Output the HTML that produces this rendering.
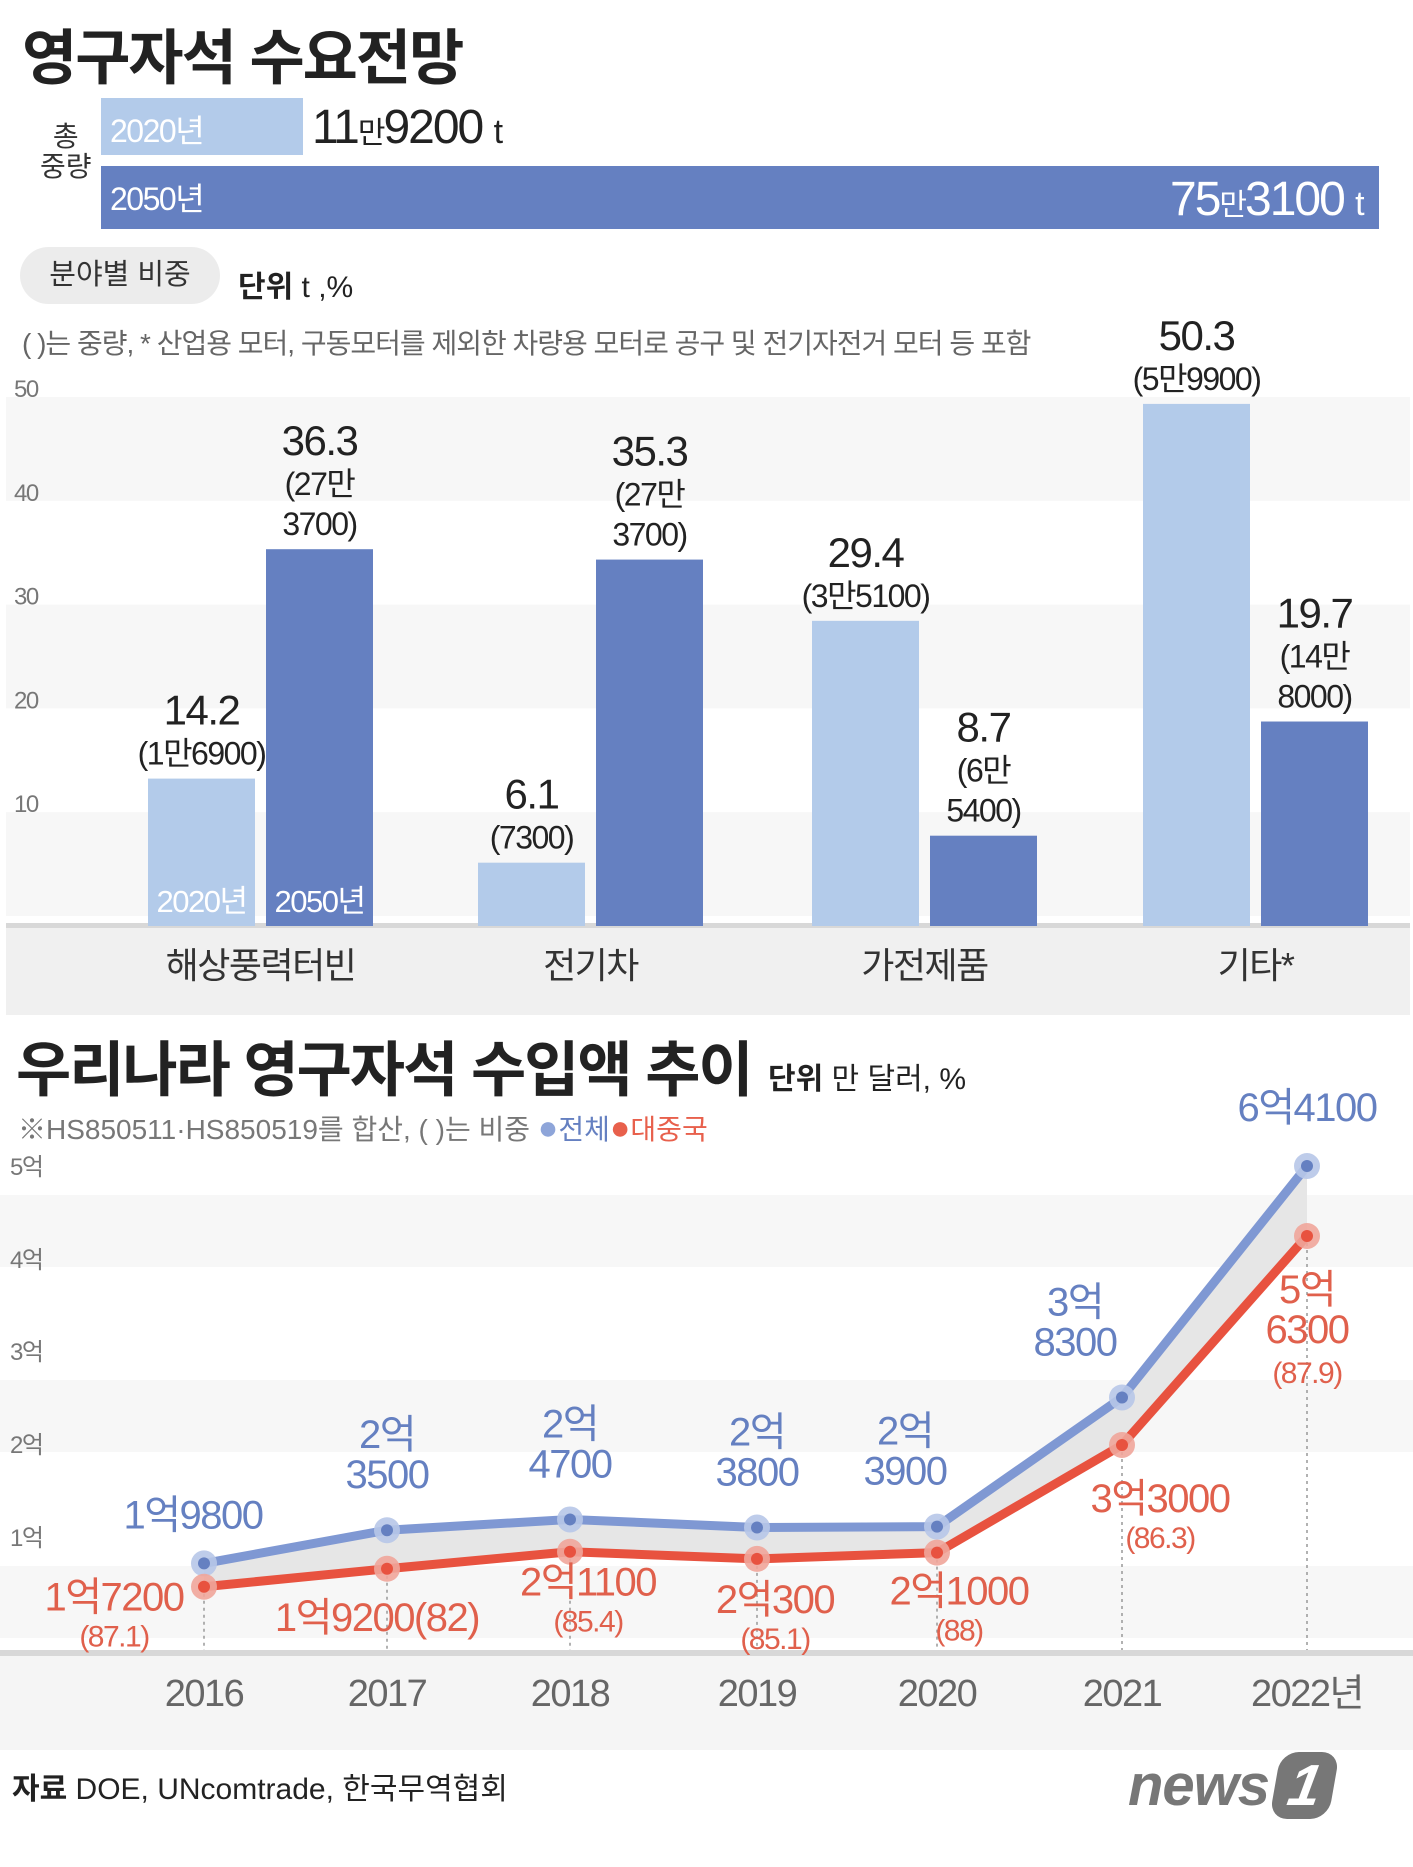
<!DOCTYPE html>
<html><head><meta charset="utf-8">
<style>
body{margin:0;width:1413px;height:1867px;background:#fff;overflow:hidden;position:relative;font-family:"Liberation Sans Narrow","Liberation Sans","Noto Sans CJK KR",sans-serif;color:#222}
.a{position:absolute;white-space:nowrap}
svg{position:absolute;left:0;top:0}
svg text{letter-spacing:-1.5px}
</style></head><body>
<div class="a" style="left:22px;top:10px;font-size:60px;font-weight:bold;font-family:'Liberation Sans','Noto Sans CJK KR',sans-serif;letter-spacing:-2px">영구자석 수요전망</div>
<div class="a" style="left:40px;top:122px;font-size:28px;line-height:30px;text-align:center;color:#333;font-family:'Liberation Sans','Noto Sans CJK KR',sans-serif">총<br>중량</div>
<div class="a" style="left:101px;top:98px;width:202px;height:57px;background:#b3cbea"></div>
<div class="a" style="left:110px;top:106px;font-size:32px;color:#fff;letter-spacing:-1.5px">2020년</div>
<div class="a" style="left:312px;top:100px;font-size:48px;letter-spacing:-2px">11<span style="font-size:30px">만</span>9200 <span style="font-size:34px">t</span></div>
<div class="a" style="left:101px;top:166px;width:1278px;height:63px;background:#6580c1"></div>
<div class="a" style="left:110px;top:174px;font-size:32px;color:#fff;letter-spacing:-1.5px">2050년</div>
<div class="a" style="left:1170px;top:172px;font-size:48px;color:#fff;letter-spacing:-2px">75<span style="font-size:30px">만</span>3100 <span style="font-size:34px">t</span></div>
<div class="a" style="left:20px;top:247px;width:200px;height:57px;border-radius:29px;background:#ececec;font-size:29px;line-height:57px;text-align:center;color:#333;font-family:'Liberation Sans','Noto Sans CJK KR',sans-serif">분야별 비중</div>
<div class="a" style="left:238px;top:262px;font-size:30px;font-family:'Liberation Sans','Noto Sans CJK KR',sans-serif"><b>단위</b> t ,%</div>
<div class="a" style="left:22px;top:322px;font-size:28px;color:#666;font-family:'Liberation Sans','Noto Sans CJK KR',sans-serif;letter-spacing:-1px">( )는 중량, * 산업용 모터, 구동모터를 제외한 차량용 모터로 공구 및 전기자전거 모터 등 포함</div>

<div class="a" style="left:16px;top:1022px;font-size:60px;font-weight:bold;font-family:'Liberation Sans','Noto Sans CJK KR',sans-serif;letter-spacing:-2px">우리나라 영구자석 수입액 추이</div>
<div class="a" style="left:768px;top:1054px;font-size:30px;font-family:'Liberation Sans','Noto Sans CJK KR',sans-serif"><b>단위</b> 만 달러, %</div>
<div class="a" style="left:18px;top:1108px;font-size:28px;color:#777;font-family:'Liberation Sans','Noto Sans CJK KR',sans-serif">※HS850511·HS850519를 합산, ( )는 비중 <span style="color:#8ea5d9;font-size:34px">●</span><span style="color:#6580c1">전체</span><span style="color:#e8604c"><span style="font-size:34px">●</span>대중국</span></div>
<div class="a" style="left:12px;top:1764px;font-size:30px;font-family:'Liberation Sans','Noto Sans CJK KR',sans-serif"><b>자료</b> DOE, UNcomtrade, 한국무역협회</div>
<div class="a" style="left:1128px;top:1752px;font-size:58px;font-weight:bold;font-style:italic;color:#777;font-family:'Liberation Sans',sans-serif;letter-spacing:-1px">news<span style="display:inline-block;background:#777;color:#fff;border-radius:18px;padding:0 14px;margin-left:6px;transform:skewX(-10deg)">1</span></div>

<svg id="bars" width="1413" height="1867"></svg>
<svg id="lines" width="1413" height="1867"></svg>

<script>
const categories=["해상풍력터빈","전기차","가전제품","기타*"];
const share2020=[14.2,6.1,29.4,50.3];
const share2050=[36.3,35.3,8.7,19.7];
const weight2020=[["(1만6900)"],["(7300)"],["(3만5100)"],["(5만9900)"]];
const weight2050=[["(27만","3700)"],["(27만","3700)"],["(6만","5400)"],["(14만","8000)"]];
const barTicks=[10,20,30,40,50];

const years=["2016","2017","2018","2019","2020","2021","2022년"];
const totalVals=[1.98,2.35,2.47,2.38,2.39,3.83,6.41];
const chinaVals=[1.72,1.92,2.11,2.03,2.10,3.30,5.63];
const totalLabels=[["1억9800"],["2억","3500"],["2억","4700"],["2억","3800"],["2억","3900"],["3억","8300"],["6억4100"]];
const chinaLabels=[["1억7200","(87.1)"],["1억9200(82)"],["2억1100","(85.4)"],["2억300","(85.1)"],["2억1000","(88)"],["3억3000","(86.3)"],["5억","6300","(87.9)"]];
const lineTicks=["1억","2억","3억","4억","5억"];

const NS="http://www.w3.org/2000/svg";
function mk(svg,tag,attrs,text){const e=document.createElementNS(NS,tag);for(const k in attrs)e.setAttribute(k,attrs[k]);if(text!==undefined)e.textContent=text;svg.appendChild(e);return e;}
const FF="Liberation Sans Narrow, Liberation Sans, Noto Sans CJK KR, sans-serif";

// ---- bar chart
const B=document.getElementById('bars');
const base=926, top50=407;
const yb=v=>base-(base-top50)*v/50;
const groupX=[148,478,812,1143], bw=107, gap=11;
[50,30,10].forEach(t=>{
  const r=mk(B,'rect',{x:6,y:yb(t)-10,width:1404,height:yb(0)-yb(10),fill:'#f7f7f7'});
  
  
});
const catBand=mk(B,'rect',{x:6,y:base,width:1404,height:89,fill:'#f0f0f0'});


mk(B,'rect',{x:6,y:base-3,width:1404,height:5,fill:'#d8d8d8'});
barTicks.forEach(t=>{
  const tx=mk(B,'text',{x:14,y:yb(t)-10,'font-size':24,fill:'#777','font-family':FF},String(t));
  
  
});
categories.forEach((c,i)=>{
  const x1=groupX[i], x2=x1+bw+gap;
  const h1=yb(share2020[i]), h2=yb(share2050[i]);
  const r1=mk(B,'rect',{x:x1,y:h1,width:bw,height:base-h1,fill:'#b3cbea'});
  
  
  const r2=mk(B,'rect',{x:x2,y:h2,width:bw,height:base-h2,fill:'#6580c1'});
  
  
  let l=weight2020[i], n=l.length;
  let v=mk(B,'text',{x:x1+bw/2,y:h1-14-n*40,'text-anchor':'middle','font-size':42,fill:'#222','font-family':FF},share2020[i].toFixed(1));
  
  
  l.forEach((s,k)=>{const t=mk(B,'text',{x:x1+bw/2,y:h1-14-(n-1-k)*40,'text-anchor':'middle','font-size':32,fill:'#222','font-family':FF},s);
    
    });
  l=weight2050[i]; n=l.length;
  v=mk(B,'text',{x:x2+bw/2,y:h2-14-n*40,'text-anchor':'middle','font-size':42,fill:'#222','font-family':FF},share2050[i].toFixed(1));
  
  
  l.forEach((s,k)=>{const t=mk(B,'text',{x:x2+bw/2,y:h2-14-(n-1-k)*40,'text-anchor':'middle','font-size':32,fill:'#222','font-family':FF},s);
    
    });
  const cl=mk(B,'text',{x:x2-gap/2,y:978,'text-anchor':'middle','font-size':36,fill:'#333','font-family':FF},c);
  
  
});
let lg=mk(B,'text',{x:groupX[0]+bw/2,y:base-14,'text-anchor':'middle','font-size':31,fill:'#fff','font-family':FF},'2020년');


lg=mk(B,'text',{x:groupX[0]+bw+gap+bw/2,y:base-14,'text-anchor':'middle','font-size':31,fill:'#fff','font-family':FF},'2050년');



// ---- line chart
const L=document.getElementById('lines');
const xs=[204,387,570,757,937,1122,1307];
const yl=v=>1741-89.7*v;
const tickY=[1546,1453,1360,1268,1175];
[1175,1360,1546].forEach(y=>{
  const r=mk(L,'rect',{x:0,y:y+20,width:1413,height:72,fill:'#f7f7f7'});
  
  
});
mk(L,'rect',{x:0,y:1655,width:1413,height:95,fill:'#f5f5f5'});
mk(L,'rect',{x:0,y:1650,width:1413,height:6,fill:'#d8d8d8'});
lineTicks.forEach((t,i)=>{
  const tx=mk(L,'text',{x:10,y:tickY[i],'font-size':24,fill:'#777','font-family':FF},t);
  
  
});
let pts=xs.map((x,i)=>x+','+yl(totalVals[i])).join(' ')+' '+xs.slice().reverse().map((x,j)=>x+','+yl(chinaVals[xs.length-1-j])).join(' ');
const area=mk(L,'polygon',{points:pts,fill:'#e6e6e6'});


xs.forEach((x,i)=>{
  mk(L,'line',{x1:x,x2:x,y1:yl(chinaVals[i]),y2:1650,stroke:'#999','stroke-dasharray':'3,4','stroke-width':1.5});
  const yt=mk(L,'text',{x:x,y:1706,'text-anchor':'middle','font-size':38,fill:'#666','font-family':FF},years[i]);
  
  
});
const tl=mk(L,'polyline',{points:xs.map((x,i)=>x+','+yl(totalVals[i])).join(' '),fill:'none',stroke:'#7f98d3','stroke-width':9,'stroke-linejoin':'round'});


const cl2=mk(L,'polyline',{points:xs.map((x,i)=>x+','+yl(chinaVals[i])).join(' '),fill:'none',stroke:'#e8523f','stroke-width':9,'stroke-linejoin':'round'});


xs.forEach((x,i)=>{
  mk(L,'circle',{cx:x,cy:yl(totalVals[i]),r:13,fill:'#b7c6e8',opacity:0.9});
  const p=mk(L,'circle',{cx:x,cy:yl(totalVals[i]),r:6,fill:'#6580c1'});
  
  
  mk(L,'circle',{cx:x,cy:yl(chinaVals[i]),r:13,fill:'#f0a59a',opacity:0.9});
  const q=mk(L,'circle',{cx:x,cy:yl(chinaVals[i]),r:6,fill:'#e8523f'});
  
  
});
const tOff=[[-11,-35],[0,-42],[0,-42],[0,-42],[-32,-42],[-47,-42],[0,-45]];
const cOff=[[-90,24],[-10,62],[18,44],[18,54],[22,52],[38,67],[0,67]];
xs.forEach((x,i)=>{
  let l=totalLabels[i], n=l.length, yT=yl(totalVals[i])+tOff[i][1];
  l.forEach((s,k)=>{const t=mk(L,'text',{x:x+tOff[i][0],y:yT-(n-1-k)*40,'text-anchor':'middle','font-size':40,fill:'#6580c1','font-family':FF},s);
    
    });
  l=chinaLabels[i]; n=l.length;
  const yC=yl(chinaVals[i])+cOff[i][1];
  l.forEach((s,k)=>{
    const isPct=s.startsWith('(')&&k>0;
    const t=mk(L,'text',{x:x+cOff[i][0],y:yC+k*(i===6?40:36),'text-anchor':'middle','font-size':isPct?30:40,fill:'#e0604c','font-family':FF},s);
    
    });
});
</script>
</body></html>
